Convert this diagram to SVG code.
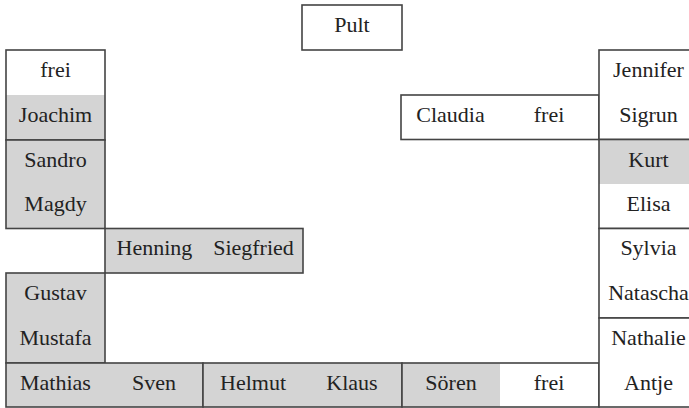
<svg xmlns="http://www.w3.org/2000/svg" width="689" height="408" viewBox="0 0 689 408">
<rect width="689" height="408" fill="#fff"/>
<g stroke="#444" stroke-width="1.6">
<g id="pult"><rect fill="#fff" x="302" y="5" width="100" height="45"/><text stroke="none" font-family="Liberation Serif" font-size="22" fill="#222" text-anchor="middle" x="352" y="32">Pult</text></g>
<g id="left1"><rect fill="#d4d4d4" stroke="none" x="6" y="95" width="99" height="45"/><rect fill="none" x="6" y="50" width="99" height="90"/><text stroke="none" font-family="Liberation Serif" font-size="22" fill="#222" text-anchor="middle" x="55.5" y="77">frei</text><text stroke="none" font-family="Liberation Serif" font-size="22" fill="#222" text-anchor="middle" x="55.5" y="122">Joachim</text></g>
<g id="left2"><rect fill="#d4d4d4" x="6" y="140" width="99" height="88.5"/><text stroke="none" font-family="Liberation Serif" font-size="22" fill="#222" text-anchor="middle" x="55.5" y="167">Sandro</text><text stroke="none" font-family="Liberation Serif" font-size="22" fill="#222" text-anchor="middle" x="55.5" y="211">Magdy</text></g>
<g id="henning"><rect fill="#d4d4d4" x="105" y="228.5" width="198" height="44.5"/><text stroke="none" font-family="Liberation Serif" font-size="22" fill="#222" text-anchor="middle" x="154.5" y="255">Henning</text><text stroke="none" font-family="Liberation Serif" font-size="22" fill="#222" text-anchor="middle" x="253.5" y="255">Siegfried</text></g>
<g id="left3"><rect fill="#d4d4d4" x="6" y="273" width="99" height="90"/><text stroke="none" font-family="Liberation Serif" font-size="22" fill="#222" text-anchor="middle" x="55.5" y="300">Gustav</text><text stroke="none" font-family="Liberation Serif" font-size="22" fill="#222" text-anchor="middle" x="55.5" y="345">Mustafa</text></g>
<g id="bottom1"><rect fill="#d4d4d4" x="6" y="363" width="197" height="44"/><text stroke="none" font-family="Liberation Serif" font-size="22" fill="#222" text-anchor="middle" x="55.5" y="390">Mathias</text><text stroke="none" font-family="Liberation Serif" font-size="22" fill="#222" text-anchor="middle" x="154" y="390">Sven</text></g>
<g id="bottom2"><rect fill="#d4d4d4" x="203" y="363" width="199" height="44"/><text stroke="none" font-family="Liberation Serif" font-size="22" fill="#222" text-anchor="middle" x="253" y="390">Helmut</text><text stroke="none" font-family="Liberation Serif" font-size="22" fill="#222" text-anchor="middle" x="352" y="390">Klaus</text></g>
<g id="bottom3"><rect fill="#d4d4d4" stroke="none" x="402" y="363" width="98" height="44"/><rect fill="none" x="402" y="363" width="197" height="44"/><text stroke="none" font-family="Liberation Serif" font-size="22" fill="#222" text-anchor="middle" x="451" y="390">Sören</text><text stroke="none" font-family="Liberation Serif" font-size="22" fill="#222" text-anchor="middle" x="549" y="390">frei</text></g>
<g id="claudia"><rect fill="#fff" x="401" y="95" width="198" height="44.5"/><text stroke="none" font-family="Liberation Serif" font-size="22" fill="#222" text-anchor="middle" x="450.5" y="122">Claudia</text><text stroke="none" font-family="Liberation Serif" font-size="22" fill="#222" text-anchor="middle" x="549" y="122">frei</text></g>
<g id="right1"><rect fill="#fff" x="599" y="50" width="100" height="89.5"/><text stroke="none" font-family="Liberation Serif" font-size="22" fill="#222" text-anchor="middle" x="648.5" y="77">Jennifer</text><text stroke="none" font-family="Liberation Serif" font-size="22" fill="#222" text-anchor="middle" x="648.5" y="122">Sigrun</text></g>
<g id="right2"><rect fill="#d4d4d4" stroke="none" x="599" y="139.5" width="100" height="44.5"/><rect fill="none" x="599" y="139.5" width="100" height="89"/><text stroke="none" font-family="Liberation Serif" font-size="22" fill="#222" text-anchor="middle" x="648.5" y="167">Kurt</text><text stroke="none" font-family="Liberation Serif" font-size="22" fill="#222" text-anchor="middle" x="648.5" y="211">Elisa</text></g>
<g id="right3"><rect fill="#fff" x="599" y="228.5" width="100" height="89.5"/><text stroke="none" font-family="Liberation Serif" font-size="22" fill="#222" text-anchor="middle" x="648.5" y="255">Sylvia</text><text stroke="none" font-family="Liberation Serif" font-size="22" fill="#222" text-anchor="middle" x="648.5" y="300">Natascha</text></g>
<g id="right4"><rect fill="#fff" x="599" y="318" width="100" height="89"/><text stroke="none" font-family="Liberation Serif" font-size="22" fill="#222" text-anchor="middle" x="648.5" y="345">Nathalie</text><text stroke="none" font-family="Liberation Serif" font-size="22" fill="#222" text-anchor="middle" x="648.5" y="390">Antje</text></g>
</g>
<g id="connectors"></g>
</svg>
